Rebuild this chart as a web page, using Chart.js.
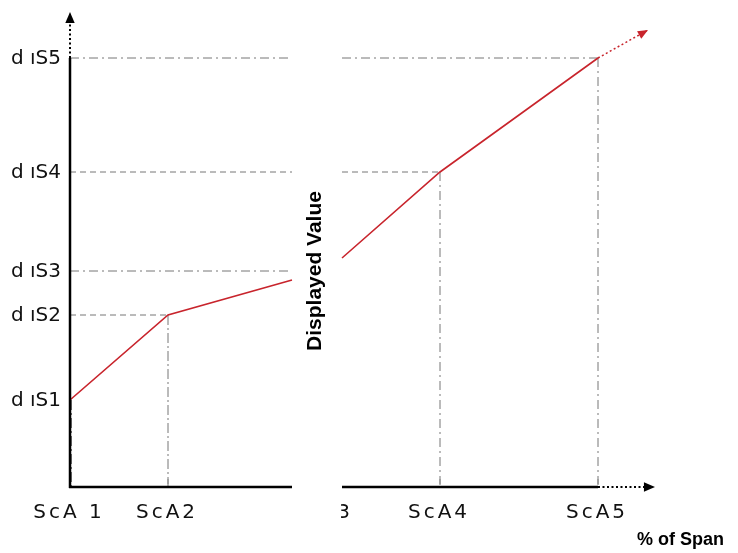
<!DOCTYPE html>
<html>
<head>
<meta charset="utf-8">
<script src="https://cdn.jsdelivr.net/npm/chart.js@4/dist/chart.umd.min.js"></script>
<style>
  body { margin: 0; background: #fff; }
</style>
</head>
<body>
<canvas id="spanChart" width="738" height="553"></canvas>
<script>
// x = % of span (arbitrary units), y = displayed value (arbitrary units)
var xTickLabels = ['ScA 1', 'ScA2', 'ScA3', 'ScA4', 'ScA5'];
var xTickValues = [0, 9.8, 25.3, 37, 52.8];
var yTickLabels = ['d ıS1', 'd ıS2', 'd ıS3', 'd ıS4', 'd ıS5'];
var yTickValues = [8.7, 17.2, 21.6, 31.5, 42.9];

var leftX = [0, 9.8, 22.2];
var leftY = [8.7, 17.2, 20.7];
var rightX = [27.2, 37, 52.8];
var rightY = [22.9, 31.5, 42.9];
var extX = [52.8, 57.8];
var extY = [42.9, 45.7];

var breakFrom = 22.2, breakTo = 27.2;
var xMax = 58.5, yMax = 47.5;

function pts(xs, ys) {
    return xs.map(function (x, i) { return { x: x, y: ys[i] }; });
}

var red = '#c8242c';

function arrowHead(ctx, x1, y1, x2, y2, size, color) {
    var a = Math.atan2(y2 - y1, x2 - x1);
    ctx.save();
    ctx.fillStyle = color;
    ctx.beginPath();
    ctx.moveTo(x2, y2);
    ctx.lineTo(x2 - size * Math.cos(a - 0.4), y2 - size * Math.sin(a - 0.4));
    ctx.lineTo(x2 - size * Math.cos(a + 0.4), y2 - size * Math.sin(a + 0.4));
    ctx.closePath();
    ctx.fill();
    ctx.restore();
}

function seg(ctx, x1, y1, x2, y2, dash) {
    ctx.setLineDash(dash || []);
    ctx.beginPath();
    ctx.moveTo(x1, y1);
    ctx.lineTo(x2, y2);
    ctx.stroke();
}

var dashed = [6, 4];
var dashDot = [9, 4, 2, 4];

var brokenAxes = {
    id: 'brokenAxes',
    beforeDatasetsDraw: function (chart) {
        var ctx = chart.ctx, xs = chart.scales.x, ys = chart.scales.y;
        var X = function (v) { return xs.getPixelForValue(v); };
        var Y = function (v) { return ys.getPixelForValue(v); };
        var base = Y(0), x0 = X(0), bL = X(breakFrom), bR = X(breakTo);
        ctx.save();
        ctx.strokeStyle = '#777';
        ctx.lineWidth = 1;
        // horizontal guides
        seg(ctx, x0, Y(yTickValues[4]), bL, Y(yTickValues[4]), dashDot);
        seg(ctx, bR, Y(yTickValues[4]), X(xTickValues[4]), Y(yTickValues[4]), dashDot);
        seg(ctx, x0, Y(yTickValues[3]), bL, Y(yTickValues[3]), dashed);
        seg(ctx, bR, Y(yTickValues[3]), X(xTickValues[3]), Y(yTickValues[3]), dashed);
        seg(ctx, x0, Y(yTickValues[2]), bL, Y(yTickValues[2]), dashDot);
        seg(ctx, x0, Y(yTickValues[1]), X(xTickValues[1]), Y(yTickValues[1]), dashed);
        // vertical guides
        seg(ctx, x0 + 1.5, Y(yTickValues[0]), x0 + 1.5, base, [10, 3, 2, 3]);
        seg(ctx, X(xTickValues[1]), Y(yTickValues[1]), X(xTickValues[1]), base, [10, 3, 2, 3]);
        seg(ctx, X(xTickValues[3]), Y(yTickValues[3]), X(xTickValues[3]), base, dashDot);
        seg(ctx, X(xTickValues[4]), Y(yTickValues[4]), X(xTickValues[4]), base, dashDot);
        ctx.restore();
    },
    afterDatasetsDraw: function (chart) {
        var ctx = chart.ctx, xs = chart.scales.x, ys = chart.scales.y;
        var X = function (v) { return xs.getPixelForValue(v); };
        var Y = function (v) { return ys.getPixelForValue(v); };
        var base = Y(0), x0 = X(0), bL = X(breakFrom), bR = X(breakTo);
        var top = Y(yMax), right = X(xMax);
        ctx.save();
        ctx.strokeStyle = '#000';
        ctx.lineWidth = 2.5;
        // y axis
        seg(ctx, x0, base + 1, x0, Y(yTickValues[4]));
        ctx.lineWidth = 2;
        seg(ctx, x0, Y(yTickValues[4]), x0, top + 8, [2, 2.5]);
        arrowHead(ctx, x0, top + 20, x0, top, 12, '#000');
        // x axis
        ctx.lineWidth = 2.5;
        seg(ctx, x0 - 1, base, bL, base);
        seg(ctx, bR, base, X(xTickValues[4]), base);
        ctx.lineWidth = 2;
        seg(ctx, X(xTickValues[4]), base, right - 8, base, [2, 2.5]);
        arrowHead(ctx, right - 20, base, right, base, 12, '#000');
        // tick marks
        ctx.strokeStyle = '#888';
        ctx.lineWidth = 1;
        [1, 3, 4].forEach(function (i) {
            seg(ctx, X(xTickValues[i]), base - 8, X(xTickValues[i]), base - 3, []);
        });
        // extension arrow
        arrowHead(ctx, X(extX[0]), Y(extY[0]), X(extX[1]), Y(extY[1]), 11, red);

        // tick labels
        ctx.setLineDash([]);
        ctx.fillStyle = '#111';
        ctx.font = '20px "DejaVu Sans"';
        ctx.letterSpacing = '0px';
        ctx.textAlign = 'right';
        ctx.textBaseline = 'middle';
        yTickLabels.forEach(function (t, i) {
            ctx.fillText(t, x0 - 9, Y(yTickValues[i]) + 1);
        });
        ctx.letterSpacing = '3px';
        ctx.textAlign = 'center';
        ctx.textBaseline = 'alphabetic';
        xTickLabels.forEach(function (t, i) {
            ctx.save();
            var cx = X(xTickValues[i]) - 1;
            if (xTickValues[i] > breakFrom && xTickValues[i] < breakTo) {
                ctx.beginPath();
                ctx.rect(bR - 1, base, 60, 60);
                ctx.clip();
            }
            ctx.fillText(t, cx, base + 31);
            ctx.restore();
        });

        // axis titles
        ctx.letterSpacing = '0px';
        ctx.font = 'bold 21px "Liberation Sans", Arial';
        ctx.textAlign = 'center';
        ctx.fillStyle = '#000';
        ctx.save();
        ctx.translate(315, Y(21.6));
        ctx.rotate(-Math.PI / 2);
        ctx.textBaseline = 'middle';
        ctx.fillText('Displayed Value', 0, 0);
        ctx.restore();
        ctx.font = 'bold 18px "Liberation Sans", Arial';
        ctx.textAlign = 'right';
        ctx.fillText('% of Span', 724, 545);
        ctx.restore();
    }
};

var ctx = document.getElementById('spanChart');
var spanChart = new Chart(ctx, {
    type: 'line',
    data: {
        datasets: [{
            data: pts(leftX, leftY),
            borderColor: red,
            borderWidth: 1.6
        }, {
            data: pts(rightX, rightY),
            borderColor: red,
            borderWidth: 1.6
        }, {
            data: pts(extX, extY),
            borderColor: red,
            borderWidth: 1.5,
            borderDash: [2, 2.5]
        }]
    },
    options: {
        responsive: false,
        animation: false,
        layout: { padding: { left: 70, right: 83, top: 12, bottom: 66 } },
        elements: { point: { radius: 0 }, line: { tension: 0 } },
        plugins: { legend: { display: false }, tooltip: { enabled: false } },
        scales: {
            x: { type: 'linear', min: 0, max: xMax, display: false },
            y: { type: 'linear', min: 0, max: yMax, display: false }
        }
    },
    plugins: [brokenAxes]
});
</script>
</body>
</html>
